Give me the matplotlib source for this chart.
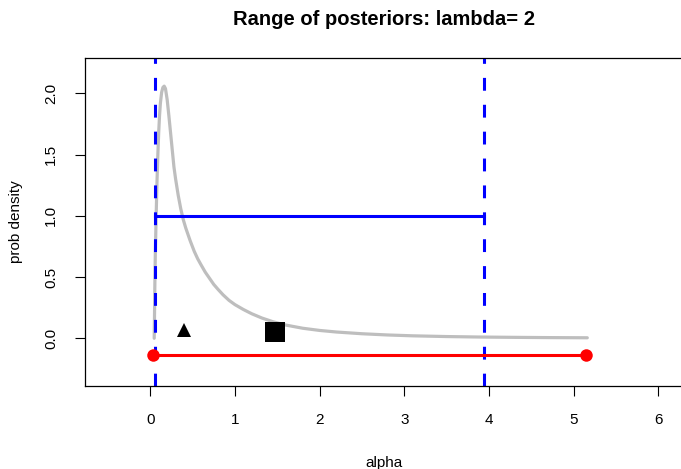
import matplotlib
matplotlib.use("Agg")
from matplotlib import pyplot as plt

plt.rcParams['font.family'] = ['Liberation Sans', 'DejaVu Sans']

# posterior density curve
alpha = [0.047, 0.05, 0.055, 0.06, 0.07, 0.08, 0.09, 0.10, 0.11, 0.12, 0.135,
         0.15, 0.165, 0.18, 0.20, 0.22, 0.24, 0.26, 0.28, 0.30, 0.33, 0.36,
         0.39, 0.42, 0.47, 0.52, 0.56, 0.60, 0.65, 0.70, 0.75, 0.80, 0.86,
         0.93, 1.0, 1.1, 1.2, 1.32, 1.45, 1.6, 1.8, 2.0, 2.2, 2.5, 2.8, 3.1,
         3.5, 3.9, 4.3, 4.7, 5.16]
density = [0.0, 0.15, 0.45, 0.68, 1.0, 1.28, 1.5, 1.68, 1.82, 1.92, 2.01,
           2.05, 2.06, 2.04, 1.95, 1.82, 1.68, 1.54, 1.40, 1.30, 1.17, 1.06,
           0.97, 0.90, 0.80, 0.71, 0.65, 0.60, 0.54, 0.49, 0.44, 0.40, 0.355,
           0.31, 0.275, 0.235, 0.20, 0.165, 0.135, 0.108, 0.082, 0.064,
           0.051, 0.037, 0.027, 0.020, 0.014, 0.010, 0.0075, 0.0055, 0.004]

ci_low, ci_high = 0.059, 3.94
ci_level = 1.0
range_low, range_high = 0.035, 5.15
range_level = -0.14
tri_x, tri_y = 0.40, 0.066
sq_x, sq_y = 1.476, 0.049

fig = plt.figure(figsize=(6.81, 4.69), dpi=100)
# the plot box runs just past the right edge of the picture
ax = fig.add_axes([85 / 681, 1 - 386 / 469, 598 / 681, 328 / 469])

ax.plot(alpha, density, color='#BEBEBE', lw=2.3, solid_capstyle='round',
        solid_joinstyle='round')
for xv in (ci_low, ci_high):
    ax.axvline(xv, color='#0000FF', lw=2.2, dashes=(4.2, 4.6))
ax.plot([ci_low, ci_high], [ci_level, ci_level], color='#0000FF', lw=2.2)
ax.plot([range_low, range_high], [range_level, range_level], color='#FF0000',
        lw=2.2, marker='o', ms=9, mew=0)
ax.plot([tri_x], [tri_y], marker='^', color='black', ms=10.5, mew=0)
ax.plot([sq_x], [sq_y], marker='s', color='black', ms=14.4, mew=0)

ax.set_xlim(-0.77, 6.29)
ax.set_ylim(-0.39, 2.29)
ax.set_xticks([0, 1, 2, 3, 4, 5, 6])
ax.set_yticks([0.0, 0.5, 1.0, 1.5, 2.0])
ax.set_yticklabels(['0.0', '0.5', '1.0', '1.5', '2.0'], rotation=90, va='center')
ax.tick_params(length=7.2, width=0.8, labelsize=11, pad=12)
for sp in ax.spines.values():
    sp.set_linewidth(0.9)

ax.set_xlabel('alpha', fontsize=11, labelpad=21)
ax.set_ylabel('prob density', fontsize=11, labelpad=15)
ax.set_title('Range of posteriors: lambda= 2', fontsize=14.5, fontweight='bold', pad=24)

fig.savefig('out.png', dpi=100)
